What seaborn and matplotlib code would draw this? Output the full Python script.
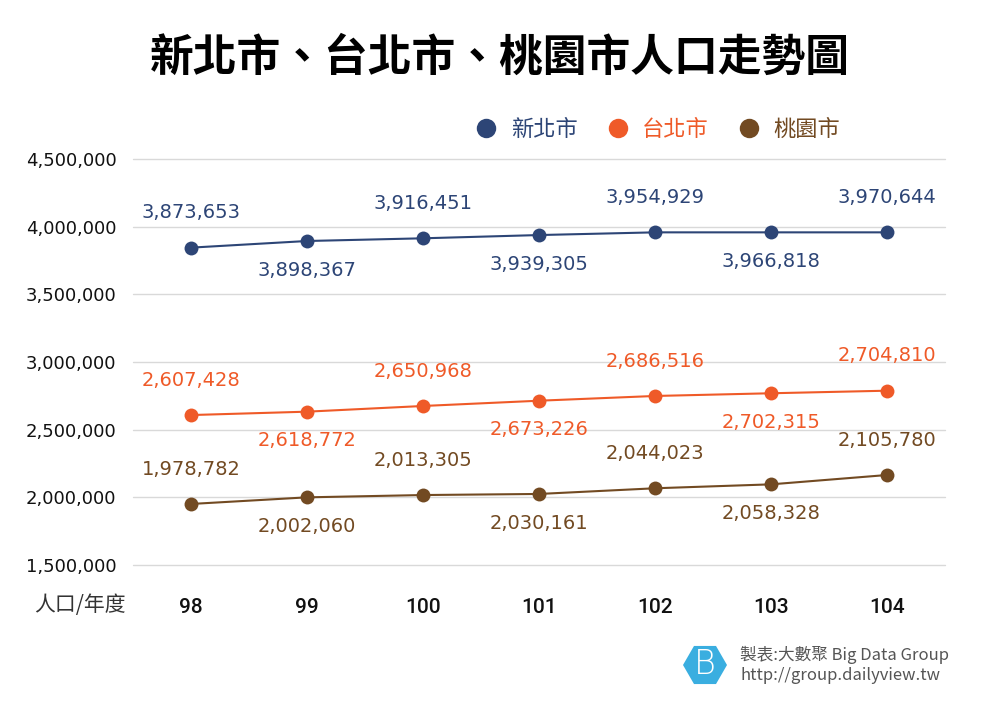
import matplotlib
matplotlib.use("Agg")
import matplotlib.pyplot as plt
from matplotlib.lines import Line2D
from matplotlib.patches import Polygon
import seaborn as sns
import pandas as pd
import numpy as np

# ---- data ----
years = ["98", "99", "100", "101", "102", "103", "104"]
cities = ["新北市", "台北市", "桃園市"]
# plotted point values (read from point positions)
newtaipei_pts = [3845000, 3894000, 3914000, 3938000, 3958000, 3958000, 3958000]
taipei_pts = [2608000, 2633000, 2675000, 2714000, 2749000, 2769000, 2788000]
taoyuan_pts = [1951000, 2000000, 2017000, 2025000, 2067000, 2096000, 2165000]
# printed label values
newtaipei_lbl = [3873653, 3898367, 3916451, 3939305, 3954929, 3966818, 3970644]
taipei_lbl = [2607428, 2618772, 2650968, 2673226, 2686516, 2702315, 2704810]
taoyuan_lbl = [1978782, 2002060, 2013305, 2030161, 2044023, 2058328, 2105780]
yticks = [1500000, 2000000, 2500000, 3000000, 3500000, 4000000, 4500000]

colors = {"新北市": "#2d4576", "台北市": "#ef5a28", "桃園市": "#724a22"}
pts = {"新北市": newtaipei_pts, "台北市": taipei_pts, "桃園市": taoyuan_pts}
lbls = {"新北市": newtaipei_lbl, "台北市": taipei_lbl, "桃園市": taoyuan_lbl}

rows = []
for c in cities:
    for i, y in enumerate(years):
        rows.append({"idx": i, "year": y, "city": c, "value": pts[c][i], "label": lbls[c][i]})
df = pd.DataFrame(rows)

sns.set_theme(style="white")
plt.rcParams["font.family"] = ["Noto Sans CJK TC", "DejaVu Sans"]

W, H = 1000, 706
fig = plt.figure(figsize=(W / 100, H / 100), dpi=100)
ax = fig.add_axes([0.133, 0.1997, 0.812, 0.5751])

sns.lineplot(data=df, x="idx", y="value", hue="city", palette=colors,
             marker="o", markersize=10, markeredgewidth=0, linewidth=1.5,
             legend=False, ax=ax, zorder=3)

ax.set_xlim(-0.5, 6.5)
ax.set_ylim(1500000, 4500000)
ax.set_yticks(yticks)
ax.set_yticklabels([f"{v:,}" for v in yticks], fontfamily="DejaVu Sans",
                   fontsize=13, color="#111111")
ax.set_xticks(range(len(years)))
ax.set_xticklabels(years, fontfamily="Roboto", fontsize=15,
                   fontweight="medium", color="#111111")
ax.tick_params(axis="y", length=0, pad=12)
ax.tick_params(axis="x", length=0, pad=24)
ax.grid(axis="y", color="#d9d9d9", linewidth=1)
ax.grid(axis="x", visible=False)
for gl in ax.get_ygridlines():
    gl.set_clip_on(False)
for s in ax.spines.values():
    s.set_visible(False)
ax.set_xlabel("")
ax.set_ylabel("")

# data labels alternating above/below
for c in cities:
    sub = df[df.city == c]
    for _, r in sub.iterrows():
        above = (r["idx"] % 2 == 0)
        ax.annotate(f"{r['label']:,}", (r["idx"], r["value"]),
                    xytext=(0, 25 if above else -21), textcoords="offset points",
                    ha="center", va="center", fontfamily="DejaVu Sans",
                    fontsize=14, color=colors[c], zorder=4)

# legend
handles = [Line2D([0], [0], marker="o", linestyle="none", markersize=14,
                  markerfacecolor=colors[c], markeredgewidth=0) for c in cities]
leg = fig.legend(handles, cities, loc="center right", bbox_to_anchor=(0.860, 0.817),
                 ncol=3, frameon=False, fontsize=16, handletextpad=0.6,
                 columnspacing=1.3, handlelength=1.0)
for t, c in zip(leg.get_texts(), cities):
    t.set_color(colors[c])

# title
fig.text(0.5, 1 - 58 / H, "新北市、台北市、桃園市人口走勢圖", ha="center", va="center",
         fontsize=31.5, fontweight="bold", color="#000000")

# axis corner label
fig.text(0.080, 1 - 605 / H, "人口/年度", ha="center", va="center",
         fontsize=15, color="#333333")

# footer logo (hexagon with flat top/bottom)
cx, cy, r = 705, 665, 22
verts = [((cx + r * np.cos(a)) / W, 1 - (cy + r * np.sin(a)) / H)
         for a in np.deg2rad(np.arange(0, 360, 60))]
fig.add_artist(Polygon(verts, closed=True, transform=fig.transFigure,
                       facecolor="#3aaee0", edgecolor="none"))
fig.text(cx / W, 1 - cy / H, "B", ha="center", va="center", fontsize=24,
         color="white", fontweight="light", fontfamily="DejaVu Sans")
fig.text(0.740, 1 - 655 / H, "製表:大數聚 Big Data Group", ha="left", va="center",
         fontsize=12, color="#555555")
fig.text(0.740, 1 - 675 / H, "http://group.dailyview.tw", ha="left", va="center",
         fontsize=12, color="#555555")

fig.savefig("out.png", dpi=100, facecolor="white")
